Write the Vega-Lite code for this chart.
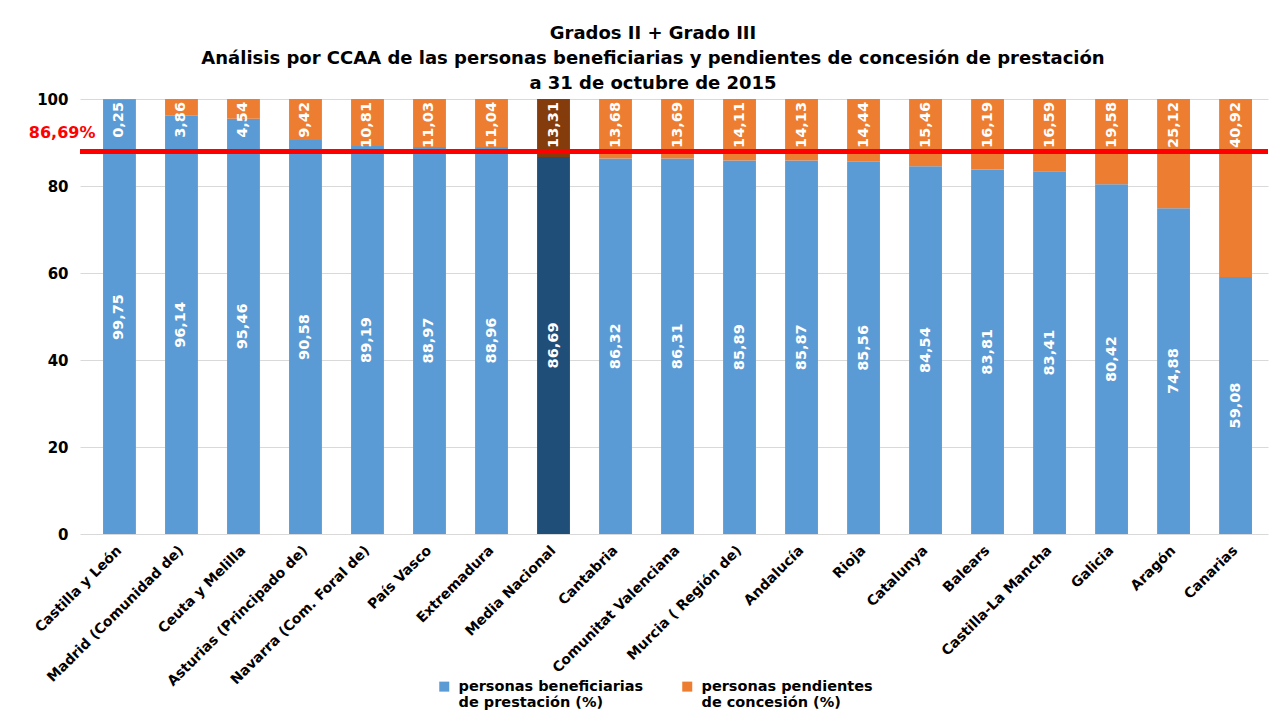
{
  "$schema": "https://vega.github.io/schema/vega-lite/v6.json",
  "autosize": "none",
  "width": 1188,
  "height": 435,
  "padding": {"left": 80, "top": 99, "right": 2, "bottom": 194},
  "background": "white",
  "title": {
    "text": ["Grados II + Grado III", "Análisis por CCAA de las personas beneficiarias y pendientes de concesión de prestación", "a 31 de octubre de 2015"],
    "font": "DejaVu Sans",
    "fontSize": 18,
    "fontWeight": "bold",
    "lineHeight": 25,
    "color": "#000000",
    "anchor": "middle",
    "dx": -21,
    "offset": -1
  },
  "data": {
    "values": [
      {"region": "Castilla y León", "benef": 99.75, "pend": 0.25},
      {"region": "Madrid (Comunidad de)", "benef": 96.14, "pend": 3.86},
      {"region": "Ceuta y Melilla", "benef": 95.46, "pend": 4.54},
      {"region": "Asturias (Principado de)", "benef": 90.58, "pend": 9.42},
      {"region": "Navarra (Com. Foral de)", "benef": 89.19, "pend": 10.81},
      {"region": "País Vasco", "benef": 88.97, "pend": 11.03},
      {"region": "Extremadura", "benef": 88.96, "pend": 11.04},
      {"region": "Media Nacional", "benef": 86.69, "pend": 13.31},
      {"region": "Cantabria", "benef": 86.32, "pend": 13.68},
      {"region": "Comunitat Valenciana", "benef": 86.31, "pend": 13.69},
      {"region": "Murcia ( Región de)", "benef": 85.89, "pend": 14.11},
      {"region": "Andalucía", "benef": 85.87, "pend": 14.13},
      {"region": "Rioja", "benef": 85.56, "pend": 14.44},
      {"region": "Catalunya", "benef": 84.54, "pend": 15.46},
      {"region": "Balears", "benef": 83.81, "pend": 16.19},
      {"region": "Castilla-La Mancha", "benef": 83.41, "pend": 16.59},
      {"region": "Galicia", "benef": 80.42, "pend": 19.58},
      {"region": "Aragón", "benef": 74.88, "pend": 25.12},
      {"region": "Canarias", "benef": 59.08, "pend": 40.92}
    ]
  },
  "encoding": {
    "x": {
      "field": "region",
      "type": "nominal",
      "sort": null,
      "scale": {"paddingInner": 0.47, "paddingOuter": 0.315, "align": 0.59},
      "axis": {
        "title": null,
        "labelAngle": -45,
        "labelAlign": "right",
        "labelBaseline": "middle",
        "labelPadding": 14,
        "labelFont": "DejaVu Sans",
        "labelFontSize": 14,
        "labelFontWeight": "bold",
        "labelColor": "#000000",
        "ticks": false,
        "domain": false,
        "labelLimit": 300
      }
    }
  },
  "layer": [
    {
      "transform": [{"fold": ["benef", "pend"], "as": ["serie", "valor"]}],
      "mark": {"type": "bar"},
      "encoding": {
        "y": {
          "field": "valor",
          "type": "quantitative",
          "stack": "zero",
          "scale": {"domain": [0, 100], "nice": false},
          "axis": {
            "title": null,
            "values": [0, 20, 40, 60, 80, 100],
            "labelFont": "DejaVu Sans",
            "labelFontSize": 15,
            "labelFontWeight": "bold",
            "labelColor": "#000000",
            "labelPadding": 12,
            "ticks": false,
            "domain": false,
            "gridColor": "#D9D9D9",
            "gridWidth": 1
          }
        },
        "order": {"field": "serie", "sort": "ascending"},
        "color": {
          "condition": [
            {"test": "datum.region === 'Media Nacional' && datum.serie === 'benef'", "value": "#1F4E79"},
            {"test": "datum.region === 'Media Nacional' && datum.serie === 'pend'", "value": "#843C0C"}
          ],
          "field": "serie",
          "type": "nominal",
          "scale": {"domain": ["benef", "pend"], "range": ["#5B9BD5", "#ED7D31"]},
          "legend": {
            "title": null,
            "orient": "none",
            "direction": "horizontal",
            "legendX": 357,
            "legendY": 580,
            "padding": 0,
            "symbolType": "square",
            "symbolSize": 100,
            "symbolStrokeWidth": 0,
            "labelFont": "DejaVu Sans",
            "labelFontSize": 14.5,
            "labelFontWeight": "bold",
            "labelColor": "#000000",
            "labelOffset": 7,
            "labelLimit": 300,
            "columnPadding": 36,
            "labelExpr": "datum.label === 'benef' ? ['personas beneficiarias', 'de prestación (%)'] : ['personas pendientes', 'de concesión (%)']"
          }
        }
      }
    },
    {
      "mark": {"type": "rule", "color": "#FF0000", "strokeWidth": 4},
      "encoding": {"y": {"datum": 87.9}, "x": null}
    },
    {
      "transform": [{"calculate": "datum.benef / 2", "as": "mid"}],
      "mark": {"type": "text", "angle": -90, "align": "center", "baseline": "middle", "font": "DejaVu Sans", "fontSize": 14.5, "fontWeight": "bold", "color": "white"},
      "encoding": {
        "y": {"field": "mid", "type": "quantitative"},
        "text": {"field": "benef", "type": "quantitative", "format": ".2f"}
      }
    },
    {
      "mark": {"type": "text", "angle": -90, "align": "right", "baseline": "middle", "font": "DejaVu Sans", "fontSize": 14.5, "fontWeight": "bold", "color": "white", "dx": -3},
      "encoding": {
        "y": {"datum": 100},
        "text": {"field": "pend", "type": "quantitative", "format": ".2f"}
      }
    },
    {
      "data": {"values": [{"region": "Castilla y León", "label": "86,69%"}]},
      "mark": {"type": "text", "align": "right", "baseline": "middle", "font": "DejaVu Sans", "fontSize": 16, "fontWeight": "bold", "color": "#FF0000", "dx": -24},
      "encoding": {
        "y": {"datum": 92.2},
        "text": {"field": "label"}
      }
    }
  ],
  "config": {
    "view": {"stroke": null},
    "locale": {"number": {"decimal": ",", "thousands": ".", "grouping": [3], "currency": ["", " €"]}}
  }
}
